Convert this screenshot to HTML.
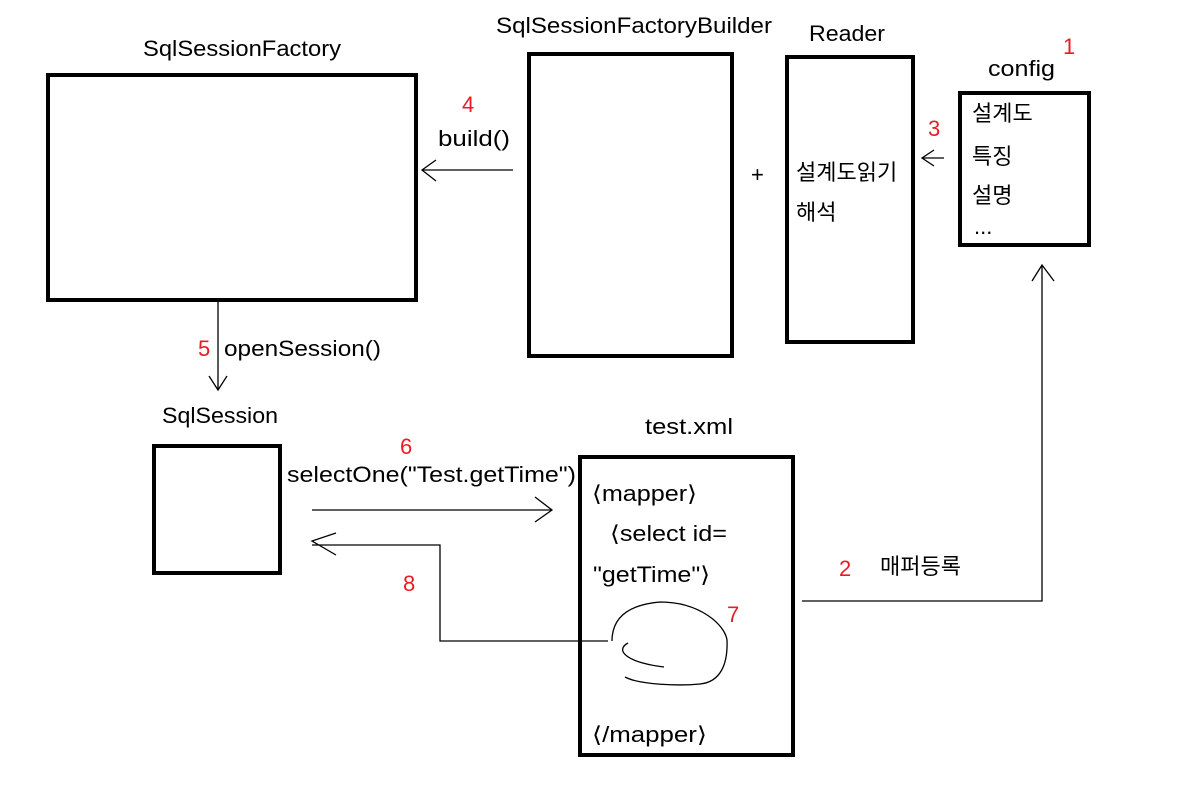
<!DOCTYPE html>
<html><head><meta charset="utf-8"><style>
html,body{margin:0;padding:0;background:#fff;}
svg{display:block;}
text{font-family:"Liberation Sans","Noto Sans CJK KR",sans-serif;font-size:22px;fill:#000;}
.r{fill:#e81c24;}
.b{font-family:"DejaVu Sans",sans-serif;font-size:22px;}
</style></head><body>
<svg width="1188" height="804" viewBox="0 0 1188 804" xmlns="http://www.w3.org/2000/svg">
<g fill="none" stroke="#000" stroke-width="4">
<rect x="48" y="75" width="368" height="225"/>
<rect x="529" y="54" width="203" height="302"/>
<rect x="787" y="57" width="126" height="285"/>
<rect x="960" y="93" width="129" height="152"/>
<rect x="154" y="446" width="126" height="127"/>
<rect x="580" y="457" width="213" height="298"/>
</g>
<g fill="none" stroke="#000" stroke-width="1.3">
<path d="M422 170H513M436 160L422 170L436 181"/>
<path d="M922 158H944M934 150L922 158L934 166"/>
<path d="M218 302V390M209 376L218 390L227 376"/>
<path d="M312 510H552M535 497L552 510L535 522"/>
<path d="M608 641H440V545H312M336 533L312 541L336 555"/>
<path d="M802 601H1042V265M1032 281L1042 265L1054 281"/>
<path d="M612 641C612 620 625 605 660 602C700 602 725 625 727 640C728 665 720 682 700 684C680 686 640 685 625 677M628 643C615 650 625 662 664 667"/>
</g>
<text x="143" y="56" textLength="198" lengthAdjust="spacingAndGlyphs">SqlSessionFactory</text>
<text x="496" y="33" textLength="276" lengthAdjust="spacingAndGlyphs">SqlSessionFactoryBuilder</text>
<text x="809" y="41" textLength="76" lengthAdjust="spacingAndGlyphs">Reader</text>
<text x="988" y="76" textLength="67" lengthAdjust="spacingAndGlyphs">config</text>
<text class="r" x="1063" y="54">1</text>
<text x="972" y="121">설계도</text>
<text x="972" y="164">특징</text>
<text x="972" y="203">설명</text>
<text x="974" y="234">...</text>
<text class="r" x="928" y="136">3</text>
<text x="796" y="180">설계도읽기</text>
<text x="796" y="220">해석</text>
<text x="751" y="182">+</text>
<text class="r" x="462" y="112">4</text>
<text x="438" y="146" textLength="72" lengthAdjust="spacingAndGlyphs">build()</text>
<text class="r" x="198" y="356">5</text>
<text x="224" y="356" textLength="157" lengthAdjust="spacingAndGlyphs">openSession()</text>
<text x="162" y="423" textLength="116" lengthAdjust="spacingAndGlyphs">SqlSession</text>
<text class="r" x="400" y="454">6</text>
<text x="287" y="482" textLength="289" lengthAdjust="spacingAndGlyphs">selectOne("Test.getTime")</text>
<text x="645" y="434" textLength="88" lengthAdjust="spacingAndGlyphs">test.xml</text>
<text x="592" y="501" textLength="105" lengthAdjust="spacingAndGlyphs"><tspan class="b">⟨</tspan>mapper<tspan class="b">⟩</tspan></text>
<text x="610" y="541" textLength="117" lengthAdjust="spacingAndGlyphs"><tspan class="b">⟨</tspan>select id=</text>
<text x="593" y="582" textLength="117" lengthAdjust="spacingAndGlyphs">"getTime"<tspan class="b">⟩</tspan></text>
<text x="592" y="742" textLength="115" lengthAdjust="spacingAndGlyphs"><tspan class="b">⟨</tspan>/mapper<tspan class="b">⟩</tspan></text>
<text class="r" x="727" y="622">7</text>
<text class="r" x="403" y="591">8</text>
<text class="r" x="839" y="576">2</text>
<text x="880" y="574">매퍼등록</text>
</svg>
</body></html>
